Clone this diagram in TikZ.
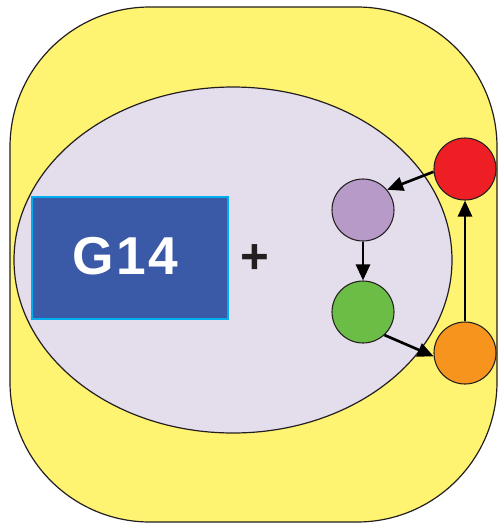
\documentclass[tikz,border=0pt]{standalone}
\usepackage{fontspec}
\setmainfont{Liberation Sans}
\usetikzlibrary{arrows.meta}
\definecolor{cellyellow}{HTML}{FFF372}
\definecolor{nucleus}{HTML}{E4DEEC}
\definecolor{gblue}{HTML}{3A59A6}
\definecolor{gcyan}{HTML}{00AEEF}
\definecolor{cpurple}{HTML}{B79AC8}
\definecolor{cgreen}{HTML}{6BBD46}
\definecolor{cred}{HTML}{ED1F24}
\definecolor{corange}{HTML}{F7941D}
\definecolor{ink}{HTML}{231F20}
\tikzset{
  dot/.style={circle, draw=ink, line width=0.8pt, minimum size=46.5pt, inner sep=0pt},
  flow/.style={draw=black, line width=2pt, -{Triangle[length=12pt,width=10.5pt]}},
}
\begin{document}
\begin{tikzpicture}[x=0.75pt, y=-0.75pt]
\useasboundingbox (0,0) rectangle (500,526);
% cell
\draw[fill=cellyellow, draw=ink, line width=0.9pt, rounded corners=105pt] (10,7) rectangle (497,522);
% nucleus
\draw[fill=nucleus, draw=ink, line width=0.9pt] (233,260) ellipse [x radius=164.25pt, y radius=129.75pt];
% G14 box
\node[draw=gcyan, line width=1.5pt, fill=gblue, minimum width=147pt, minimum height=91.5pt, inner sep=0pt] (g14) at (129.5,257.5) {};
\node[text=white, font=\fontsize{40}{40}\bfseries\addfontfeatures{LetterSpace=4}, inner sep=0pt] (g14t) at (125.5,256.5) {G14};
\node[text=ink, font=\fontsize{37}{37}\bfseries, inner sep=0pt] (plus) at (254.5,259.5) {+};
% cycle
\node[dot, fill=cpurple] (p) at (363,210) {};
\node[dot, fill=cgreen] (g) at (363,312) {};
\node[dot, fill=cred] (r) at (465,169) {};
\node[dot, fill=corange] (o) at (465,353) {};
\draw[flow] (r.185) -- (p.40);
\draw[flow] (p.south) -- (g.north);
\draw[flow] (g.-47) -- (o.186);
\draw[flow] (o.north) -- (r.south);
\end{tikzpicture}
\end{document}
